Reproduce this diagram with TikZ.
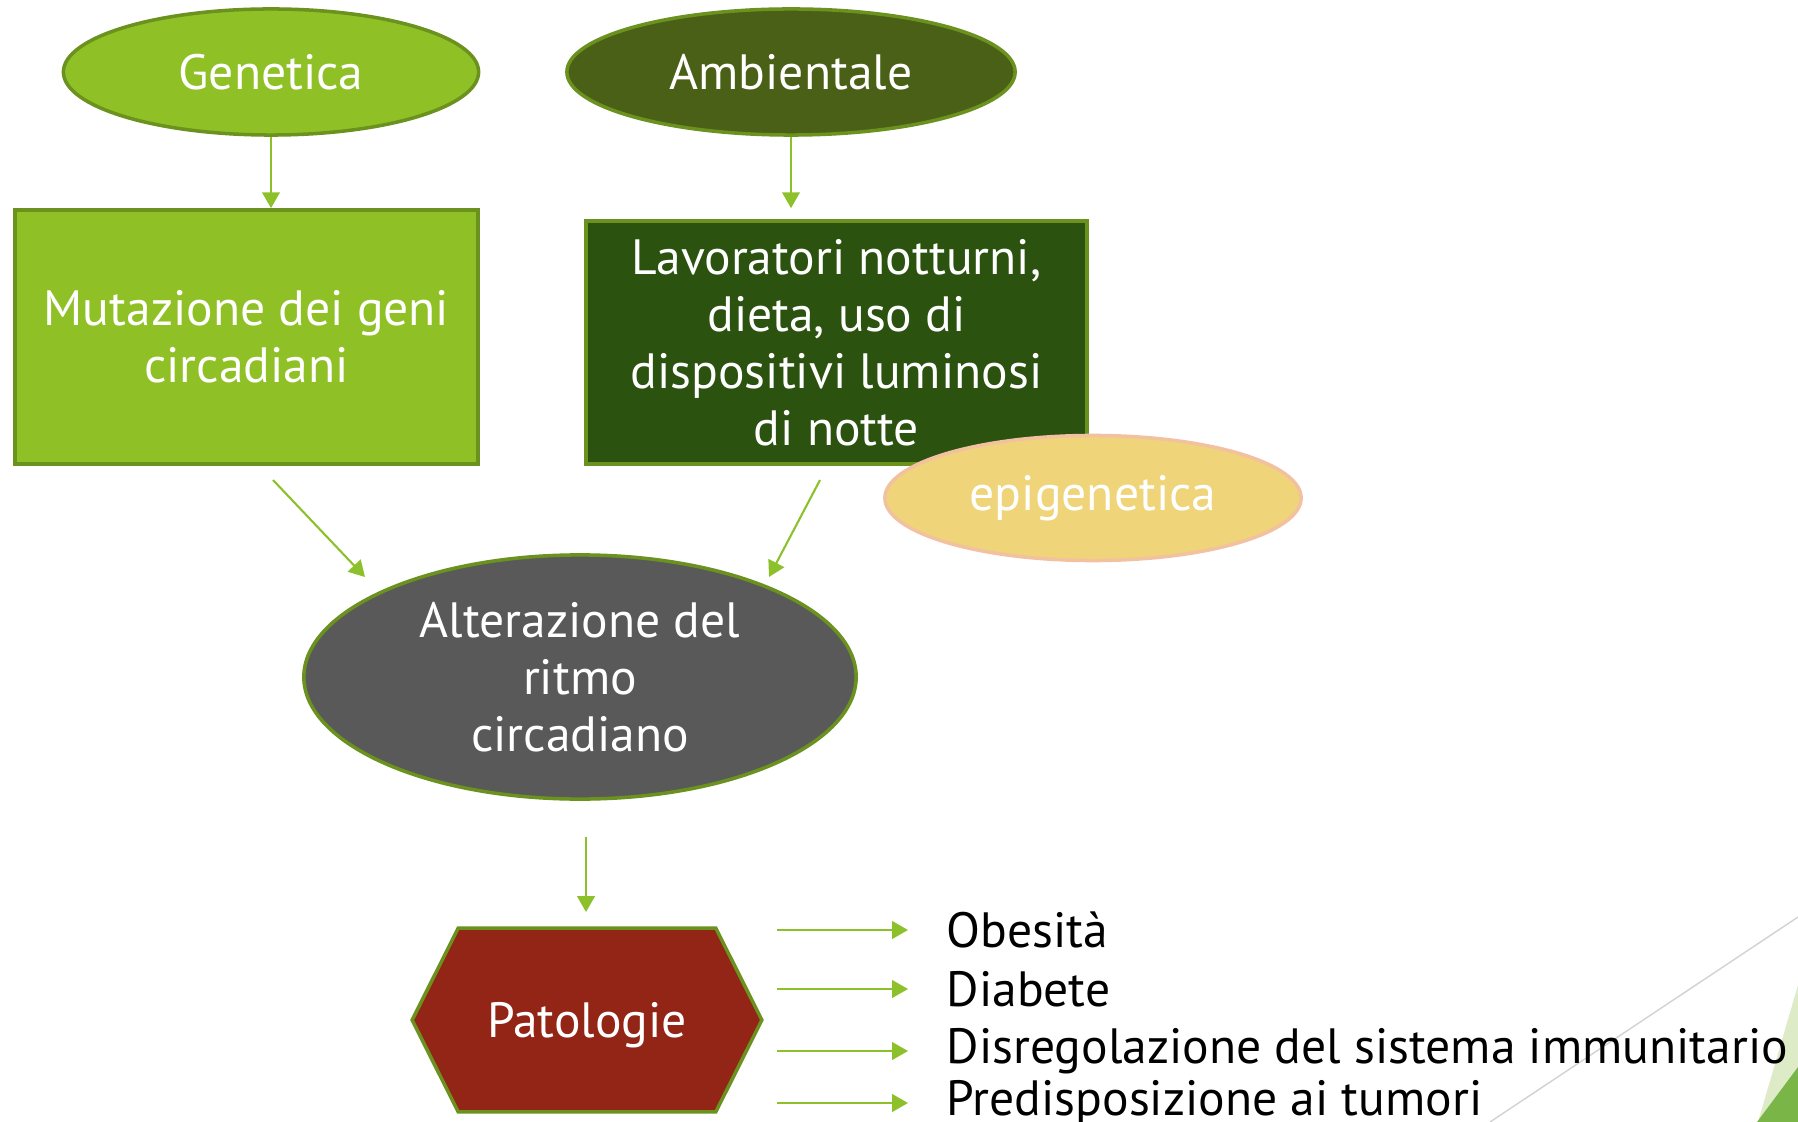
\documentclass[tikz,border=0pt]{standalone}
\usepackage{fontspec}
\setmainfont{PT Sans}
\usepackage{xcolor}
\usetikzlibrary{shapes.geometric,arrows.meta,backgrounds}
\definecolor{verdechiaro}{HTML}{8FC126}
\definecolor{verdeoliva}{HTML}{4A6016}
\definecolor{verdescuro}{HTML}{2C5210}
\definecolor{bordo}{HTML}{6B911E}
\definecolor{sabbia}{HTML}{EFD47A}
\definecolor{pesca}{HTML}{F2C2A0}
\definecolor{grigio}{HTML}{595959}
\definecolor{rosso}{HTML}{922515}
\definecolor{verdefreccia}{HTML}{8DC12C}
\definecolor{verdepallido}{HTML}{DDEBC6}
\definecolor{verdemedio}{HTML}{7AB547}
\tikzset{
	testo/.style={font=\fontsize{14.1pt}{16.2pt}\selectfont},
	ovale/.style={testo, ellipse, draw=bordo, line width=1pt, text=white, inner sep=0pt, align=center},
	riquadro/.style={testo, rectangle, draw=bordo, line width=1pt, text=white, inner sep=0pt, align=center},
	freccia/.style={-{Triangle[width=5pt,length=4.5pt]}, draw=verdefreccia, line width=0.6pt},
	voce/.style={testo, anchor=west, inner sep=0pt, text=black}
}

\begin{document}
\begin{tikzpicture}[x=0.01cm,y=-0.01cm]
		\useasboundingbox (0,0) rectangle (1798,1122);
		\fill[verdepallido](1798,985)--(1758,1122)--(1798,1122)--cycle;
		\fill[verdemedio](1798,1067)--(1757,1122)--(1798,1122)--cycle;
		\draw[gray!35, line width=0.4pt](1490,1122)--(1798,917);
		\node[ovale, fill=verdechiaro, minimum width=4.15cm, minimum height=1.26cm] (gen) at (271,72) {Genetica};
		\node[ovale, fill=verdeoliva, minimum width=4.48cm, minimum height=1.26cm] (amb) at (791,72) {Ambientale};
		\node[riquadro, fill=verdechiaro, minimum width=4.63cm, minimum height=2.54cm] (mut) at (246.5,337) {Mutazione dei geni\\circadiani};
		\node[riquadro, fill=verdescuro, minimum width=5.01cm, minimum height=2.43cm] (lav) at (836.5,342.5) {Lavoratori notturni,\\dieta, uso di\\dispositivi luminosi\\di notte};
		\node[ovale, fill=sabbia, draw=pesca, minimum width=4.16cm, minimum height=1.25cm] (epi) at (1093,498) {epigenetica};
		\node[ovale, fill=grigio, minimum width=5.52cm, minimum height=2.44cm] (alt) at (580,677) {Alterazione del\\ritmo\\circadiano};
		\node[riquadro, draw=none, text depth=0pt, minimum width=3.46cm, minimum height=1.8cm] (pat) at (587,1020) {Patologie};
		\begin{scope}[on background layer]
			\draw[fill=rosso, draw=bordo, line width=1pt](pat.west)--([xshift=0.46cm]pat.north west)--([xshift=-0.46cm]pat.north east)--(pat.east)--([xshift=-0.46cm]pat.south east)--([xshift=0.46cm]pat.south west)--cycle;
		\end{scope}
		\coordinate (m1) at (273,480);
		\coordinate (m2) at (365,577);
		\coordinate (l1) at (820,480);
		\coordinate (l2) at (769,577);
		\coordinate (a1) at (586,837);
		\coordinate (a2) at (586,912);
		\draw[freccia](gen.south)--(gen.south |- mut.north);
		\draw[freccia, shorten >=0.11cm](amb.south)--(amb.south |- lav.north);
		\draw[freccia](m1)--(m2);
		\draw[freccia](l1)--(l2);
		\draw[freccia](a1)--(a2);
		\foreach \y/\nome/\voce in {930/obe/Obesità, 989/dia/Diabete, 1051/dis/Disregolazione del sistema immunitario, 1103/pre/Predisposizione ai tumori}{
			\coordinate (s\nome) at (777,\y);
			\node[voce] (\nome) at (946,\y) {\voce};
			\draw[freccia](s\nome)--(908,\y);
		}
\end{tikzpicture}
\end{document}
